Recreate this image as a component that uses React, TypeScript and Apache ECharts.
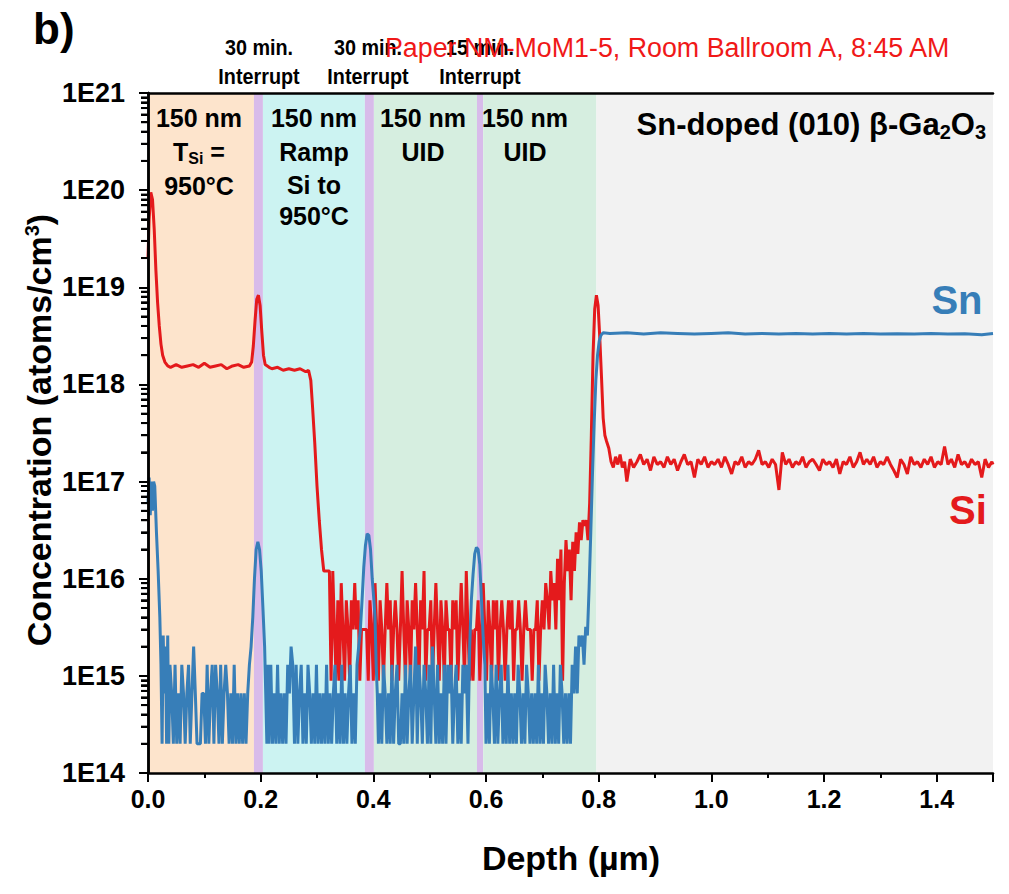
import React, { useEffect, useRef } from "react";
import * as echarts from "echarts";

// ---------------- data ----------------
const Y_TICK_LABELS = ["1E14", "1E15", "1E16", "1E17", "1E18", "1E19", "1E20", "1E21"];
const Y_DECADES = [14, 15, 16, 17, 18, 19, 20];
const Y_MINOR_MULT = [2, 3, 4, 5, 6, 7, 8, 9];

// depth ranges (µm) of the growth layers
const BAND_FROM = [0, 0.188, 0.204, 0.385, 0.401, 0.584, 0.595, 0.796];
const BAND_TO = [0.188, 0.204, 0.385, 0.401, 0.584, 0.595, 0.796, 1.5];
const BAND_COLORS = ["#FDE4CC", "#D8BBEA", "#CCF3F2", "#D8BBEA", "#D6EEE0", "#D8BBEA", "#D6EEE0", "#F2F2F2"];

// Si profile [depth µm, atoms/cm3]
const SI_PROFILE: [number, number][] = [
  [0.0, 2e19], [0.002, 5e19], [0.005, 9.5e19], [0.008, 8e19], [0.011, 4e19], [0.014, 1.5e19],
  [0.017, 7e18], [0.02, 4e18], [0.023, 2.6e18], [0.026, 2e18], [0.03, 1.7e18], [0.035, 1.55e18],
  [0.04, 1.5e18], [0.05, 1.6e18], [0.06, 1.5e18], [0.07, 1.55e18], [0.08, 1.6e18], [0.09, 1.5e18],
  [0.1, 1.65e18], [0.11, 1.5e18], [0.12, 1.55e18], [0.13, 1.6e18], [0.14, 1.45e18], [0.15, 1.55e18],
  [0.16, 1.6e18], [0.17, 1.5e18], [0.18, 1.55e18], [0.184, 1.7e18], [0.187, 2.5e18], [0.19, 4.5e18],
  [0.193, 7.5e18], [0.196, 8.3e18], [0.199, 6.5e18], [0.202, 3.5e18], [0.205, 2e18], [0.208, 1.6e18],
  [0.215, 1.5e18], [0.22, 1.45e18], [0.23, 1.5e18], [0.24, 1.4e18], [0.25, 1.45e18], [0.26, 1.4e18],
  [0.27, 1.45e18], [0.28, 1.35e18], [0.285, 1.4e18], [0.289, 1.1e18], [0.292, 6e17], [0.296, 2.5e17],
  [0.3, 9e16], [0.304, 4e16], [0.308, 2e16], [0.312, 1.2e16], [0.316, 1.2e16], [0.32, 1.2e16],
  [0.322, 1.2e16], [0.325, 8.9e14], [0.328, 1.2e16], [0.331, 3e15], [0.334, 8.9e14], [0.337, 6e15],
  [0.34, 8.9e14], [0.343, 9e15], [0.346, 3e15], [0.349, 8.9e14], [0.352, 6e15], [0.355, 3e15],
  [0.358, 8.9e14], [0.361, 6e15], [0.364, 3e15], [0.367, 9e15], [0.37, 3e15], [0.373, 6e15],
  [0.376, 8.9e14], [0.379, 3e15], [0.382, 3e15], [0.385, 3e15], [0.388, 3e15], [0.391, 8.9e14],
  [0.394, 6e15], [0.397, 3e15], [0.4, 8.9e14], [0.403, 9e15], [0.406, 3e15], [0.409, 8.9e14],
  [0.412, 6e15], [0.415, 3e15], [0.418, 8.9e14], [0.421, 3e15], [0.424, 9e15], [0.427, 3e15],
  [0.43, 6e15], [0.433, 8.9e14], [0.436, 3e15], [0.439, 6e15], [0.442, 3e15], [0.445, 8.9e14],
  [0.448, 3e15], [0.451, 1.2e16], [0.454, 3e15], [0.457, 8.9e14], [0.46, 6e15], [0.463, 3e15],
  [0.466, 8.9e14], [0.469, 6e15], [0.472, 3e15], [0.475, 9e15], [0.478, 3e15], [0.481, 8.9e14],
  [0.484, 6e15], [0.487, 3e15], [0.49, 1.2e16], [0.493, 8.9e14], [0.496, 3e15], [0.499, 3e15],
  [0.502, 6e15], [0.505, 8.9e14], [0.508, 3e15], [0.511, 9e15], [0.514, 3e15], [0.517, 8.9e14],
  [0.52, 6e15], [0.523, 3e15], [0.526, 8.9e14], [0.529, 6e15], [0.532, 3e15], [0.535, 3e15],
  [0.538, 8.9e14], [0.541, 6e15], [0.544, 3e15], [0.547, 6e15], [0.55, 8.9e14], [0.553, 3e15],
  [0.556, 9e15], [0.559, 3e15], [0.562, 8.9e14], [0.565, 1.2e16], [0.568, 3e15], [0.571, 8.9e14],
  [0.574, 3e15], [0.577, 8.9e14], [0.58, 3e15], [0.583, 3e15], [0.586, 6e15], [0.589, 8.9e14],
  [0.592, 3e15], [0.595, 9e15], [0.598, 3e15], [0.601, 8.9e14], [0.604, 6e15], [0.607, 3e15],
  [0.61, 8.9e14], [0.613, 6e15], [0.616, 3e15], [0.619, 6e15], [0.622, 8.9e14], [0.625, 3e15],
  [0.628, 6e15], [0.631, 3e15], [0.634, 8.9e14], [0.637, 3e15], [0.64, 6e15], [0.643, 3e15],
  [0.646, 6e15], [0.649, 8.9e14], [0.652, 3e15], [0.655, 3e15], [0.658, 6e15], [0.661, 3e15],
  [0.664, 8.9e14], [0.667, 3e15], [0.67, 6e15], [0.673, 3e15], [0.676, 3e15], [0.679, 3e15],
  [0.682, 8.9e14], [0.685, 3e15], [0.688, 3e15], [0.691, 6e15], [0.694, 8.9e14], [0.697, 3e15],
  [0.7, 6e15], [0.703, 3e15], [0.706, 9e15], [0.709, 6e15], [0.712, 3e15], [0.715, 1.2e16],
  [0.718, 6e15], [0.721, 9e15], [0.724, 3e15], [0.727, 1.6e16], [0.73, 6e15], [0.733, 2e16],
  [0.736, 8.9e14], [0.739, 9e15], [0.742, 2.5e16], [0.745, 1.2e16], [0.748, 2e16], [0.751, 6e15],
  [0.754, 2.4e16], [0.757, 1.2e16], [0.76, 3e16], [0.763, 1.8e16], [0.766, 3.8e16], [0.769, 2.5e16],
  [0.772, 4e16], [0.775, 3.5e16], [0.778, 4e16], [0.781, 2.5e16], [0.784, 6e16], [0.787, 3e17],
  [0.79, 2e18], [0.793, 6e18], [0.796, 8.3e18], [0.799, 6.5e18], [0.802, 3e18], [0.805, 1.2e18],
  [0.808, 4.5e17], [0.811, 3e17], [0.814, 2.6e17], [0.818, 2.2e17], [0.822, 1.6e17], [0.826, 1.4e17],
  [0.83, 1.8e17], [0.834, 1.5e17], [0.838, 1.9e17], [0.842, 1.4e17], [0.846, 1.6e17], [0.85, 1e17],
  [0.856, 1.7e17], [0.862, 1.4e17], [0.868, 1.6e17], [0.874, 1.9e17], [0.88, 1.5e17], [0.886, 1.7e17],
  [0.892, 1.3e17], [0.898, 1.8e17], [0.904, 1.5e17], [0.91, 1.6e17], [0.916, 1.4e17], [0.922, 1.8e17],
  [0.928, 1.5e17], [0.934, 1.7e17], [0.94, 1.3e17], [0.946, 1.6e17], [0.952, 1.9e17], [0.958, 1.5e17],
  [0.964, 1.6e17], [0.97, 1.1e17], [0.976, 1.7e17], [0.982, 1.5e17], [0.988, 1.8e17], [0.994, 1.4e17],
  [1.0, 1.6e17], [1.006, 1.5e17], [1.012, 1.7e17], [1.018, 1.4e17], [1.024, 1.8e17], [1.03, 1.5e17],
  [1.036, 1.2e17], [1.042, 1.6e17], [1.048, 1.5e17], [1.054, 1.8e17], [1.06, 1.4e17], [1.066, 1.6e17],
  [1.072, 1.5e17], [1.078, 1.7e17], [1.084, 2.1e17], [1.09, 1.5e17], [1.096, 1.6e17], [1.102, 1.4e17],
  [1.108, 1.7e17], [1.114, 1.5e17], [1.12, 8.2e16], [1.126, 2e17], [1.132, 1.5e17], [1.138, 1.7e17],
  [1.144, 1.4e17], [1.15, 1.6e17], [1.156, 1.5e17], [1.162, 1.8e17], [1.168, 1.4e17], [1.174, 1.6e17],
  [1.18, 1.7e17], [1.186, 1.5e17], [1.192, 1.3e17], [1.198, 1.7e17], [1.204, 1.5e17], [1.21, 1.6e17],
  [1.216, 1.4e17], [1.222, 1.7e17], [1.228, 1.2e17], [1.234, 1.6e17], [1.24, 1.5e17], [1.246, 1.8e17],
  [1.252, 1.4e17], [1.258, 1.6e17], [1.264, 2e17], [1.27, 1.5e17], [1.276, 1.7e17], [1.282, 1.5e17],
  [1.288, 1.8e17], [1.294, 1.4e17], [1.3, 1.6e17], [1.306, 1.5e17], [1.312, 1.8e17], [1.318, 1.5e17],
  [1.324, 1.3e17], [1.33, 1.1e17], [1.336, 1.7e17], [1.342, 1.5e17], [1.348, 1.2e17], [1.354, 1.8e17],
  [1.36, 1.5e17], [1.366, 1.6e17], [1.372, 1.4e17], [1.378, 1.7e17], [1.384, 1.5e17], [1.39, 1.8e17],
  [1.396, 1.4e17], [1.402, 1.6e17], [1.408, 1.5e17], [1.414, 2.3e17], [1.42, 1.5e17], [1.426, 1.7e17],
  [1.432, 1.4e17], [1.438, 1.9e17], [1.444, 1.5e17], [1.45, 1.6e17], [1.456, 1.4e17], [1.462, 1.7e17],
  [1.468, 1.5e17], [1.474, 1.6e17], [1.48, 1.1e17], [1.486, 1.7e17], [1.492, 1.4e17], [1.498, 1.6e17],
  [1.5, 1.5e17],
];

// Sn profile [depth µm, atoms/cm3]
const SN_PROFILE: [number, number][] = [
  [0.0, 6e16], [0.002, 1.1e17], [0.004, 4.5e16], [0.006, 1e17], [0.008, 5e16], [0.01, 1e17],
  [0.012, 9e16], [0.015, 3e16], [0.018, 1.2e16], [0.021, 4e15], [0.023, 1.3e15], [0.025, 2e14],
  [0.027, 2.6e15], [0.029, 6.6e14], [0.031, 2e15], [0.033, 2e14], [0.035, 2.6e15], [0.037, 2e14],
  [0.039, 1.3e15], [0.042, 6.6e14], [0.045, 2e14], [0.048, 1.3e15], [0.051, 2e14], [0.054, 6.6e14],
  [0.057, 2e14], [0.06, 1.3e15], [0.063, 6.6e14], [0.066, 2e14], [0.069, 6.6e14], [0.072, 1.3e15],
  [0.075, 2e14], [0.078, 6.6e14], [0.081, 2e15], [0.084, 6.6e14], [0.087, 2e14], [0.09, 2e14],
  [0.093, 2e14], [0.096, 6.6e14], [0.099, 6.6e14], [0.102, 2e14], [0.105, 1.3e15], [0.108, 2e14],
  [0.111, 6.6e14], [0.114, 1.3e15], [0.117, 2e14], [0.12, 1.3e15], [0.123, 6.6e14], [0.126, 2e14],
  [0.129, 1.3e15], [0.132, 2e14], [0.135, 6.6e14], [0.138, 1.3e15], [0.141, 6.6e14], [0.144, 2e14],
  [0.147, 6.6e14], [0.15, 2e14], [0.153, 1.3e15], [0.156, 2e14], [0.159, 6.6e14], [0.162, 2e14],
  [0.165, 6.6e14], [0.168, 2e14], [0.171, 6.6e14], [0.174, 2e14], [0.177, 6.6e14], [0.18, 1.3e15],
  [0.183, 2e15], [0.186, 4e15], [0.189, 1e16], [0.192, 2e16], [0.195, 2.4e16], [0.198, 2e16],
  [0.201, 1.2e16], [0.204, 5e15], [0.207, 2e15], [0.209, 6.6e14], [0.211, 2e14], [0.213, 1.3e15],
  [0.215, 2e14], [0.218, 1.3e15], [0.221, 2e14], [0.224, 6.6e14], [0.227, 2e14], [0.23, 1.3e15],
  [0.233, 2e14], [0.236, 6.6e14], [0.239, 2e14], [0.242, 6.6e14], [0.245, 2e14], [0.248, 1.3e15],
  [0.251, 6.6e14], [0.254, 2e15], [0.257, 1.3e15], [0.26, 2e14], [0.263, 1.3e15], [0.266, 2e14],
  [0.269, 6.6e14], [0.272, 1.3e15], [0.275, 2e14], [0.278, 6.6e14], [0.281, 2e14], [0.284, 1.3e15],
  [0.287, 6.6e14], [0.29, 2e14], [0.293, 6.6e14], [0.296, 2e14], [0.299, 1.3e15], [0.302, 2e14],
  [0.305, 6.6e14], [0.308, 2e14], [0.311, 6.6e14], [0.314, 2e14], [0.317, 1.3e15], [0.32, 2e14],
  [0.323, 6.6e14], [0.326, 2e14], [0.329, 6.6e14], [0.332, 1.3e15], [0.335, 2e14], [0.338, 6.6e14],
  [0.341, 2e14], [0.344, 1.3e15], [0.347, 2e14], [0.35, 6.6e14], [0.353, 2e14], [0.356, 6.6e14],
  [0.359, 1.3e15], [0.362, 2e14], [0.365, 6.6e14], [0.368, 2e14], [0.371, 1.3e15], [0.374, 2e15],
  [0.377, 3e15], [0.38, 6e15], [0.383, 1.3e16], [0.386, 2.2e16], [0.389, 2.9e16], [0.392, 2.8e16],
  [0.395, 2e16], [0.398, 1e16], [0.401, 6e15], [0.403, 4e15], [0.405, 1.3e15], [0.407, 6.6e14],
  [0.409, 2e14], [0.412, 6.6e14], [0.415, 2e14], [0.418, 1.3e15], [0.421, 6.6e14], [0.424, 2e14],
  [0.427, 6.6e14], [0.43, 2e14], [0.433, 1.3e15], [0.436, 2e14], [0.439, 6.6e14], [0.442, 1.3e15],
  [0.445, 2e14], [0.448, 2e14], [0.451, 6.6e14], [0.454, 2e14], [0.457, 1.3e15], [0.46, 2e14],
  [0.463, 6.6e14], [0.466, 1.3e15], [0.469, 2e14], [0.472, 6.6e14], [0.475, 2e15], [0.478, 2e14],
  [0.481, 1.3e15], [0.484, 6.6e14], [0.487, 2e14], [0.49, 1.3e15], [0.493, 6.6e14], [0.496, 2e14],
  [0.499, 1.3e15], [0.502, 2e14], [0.505, 2e15], [0.508, 6.6e14], [0.511, 2e14], [0.514, 1.3e15],
  [0.517, 2e14], [0.52, 6.6e14], [0.523, 2e14], [0.526, 1.3e15], [0.529, 2e14], [0.532, 1.3e15],
  [0.535, 6.6e14], [0.538, 1.3e15], [0.541, 2e14], [0.544, 6.6e14], [0.547, 1.3e15], [0.55, 2e14],
  [0.553, 6.6e14], [0.556, 2e14], [0.559, 1.3e15], [0.562, 6.6e14], [0.565, 1.3e15], [0.568, 2e14],
  [0.571, 2e15], [0.574, 6e15], [0.577, 1.1e16], [0.58, 1.8e16], [0.583, 2.1e16], [0.586, 2e16],
  [0.589, 1.4e16], [0.592, 6e15], [0.595, 2.5e15], [0.598, 1.3e15], [0.6, 2e14], [0.603, 6.6e14],
  [0.606, 2e14], [0.609, 1.3e15], [0.612, 6.6e14], [0.615, 2e14], [0.618, 1.3e15], [0.621, 2e14],
  [0.624, 6.6e14], [0.627, 1.3e15], [0.63, 2e14], [0.633, 6.6e14], [0.636, 2e14], [0.639, 1.3e15],
  [0.642, 2e14], [0.645, 6.6e14], [0.648, 2e14], [0.651, 6.6e14], [0.654, 2e14], [0.657, 1.3e15],
  [0.66, 6.6e14], [0.663, 2e14], [0.666, 6.6e14], [0.669, 2e14], [0.672, 1.3e15], [0.675, 6.6e14],
  [0.678, 2e14], [0.681, 6.6e14], [0.684, 2e14], [0.687, 6.6e14], [0.69, 2e14], [0.693, 1.3e15],
  [0.696, 2e14], [0.699, 6.6e14], [0.702, 2e14], [0.705, 1.3e15], [0.708, 6.6e14], [0.711, 2e14],
  [0.714, 6.6e14], [0.717, 2e14], [0.72, 1.3e15], [0.723, 2e14], [0.726, 6.6e14], [0.729, 2e14],
  [0.732, 1.3e15], [0.735, 6.6e14], [0.738, 2e14], [0.741, 6.6e14], [0.744, 2e14], [0.747, 6.6e14],
  [0.75, 2e14], [0.753, 1.3e15], [0.756, 6.6e14], [0.759, 2e15], [0.762, 6.6e14], [0.765, 2.6e15],
  [0.768, 2e15], [0.771, 2.6e15], [0.774, 1.3e15], [0.777, 3.2e15], [0.78, 2.6e15], [0.783, 8e15],
  [0.786, 3e16], [0.789, 1.2e17], [0.792, 4e17], [0.795, 1.1e18], [0.798, 2e18], [0.801, 2.8e18],
  [0.804, 3.2e18], [0.808, 3.4e18], [0.82, 3.35e18], [0.85, 3.4e18], [0.88, 3.3e18], [0.91, 3.4e18],
  [0.94, 3.35e18], [0.97, 3.3e18], [1.0, 3.35e18], [1.03, 3.4e18], [1.06, 3.3e18], [1.09, 3.35e18],
  [1.12, 3.3e18], [1.15, 3.35e18], [1.18, 3.3e18], [1.21, 3.35e18], [1.24, 3.3e18], [1.27, 3.35e18],
  [1.3, 3.3e18], [1.33, 3.32e18], [1.36, 3.3e18], [1.39, 3.35e18], [1.42, 3.3e18], [1.45, 3.32e18],
  [1.48, 3.25e18], [1.5, 3.35e18],
];

// ---------------- styles ----------------
const SANS = '"Liberation Sans", Arial, Helvetica, sans-serif';
const RED = "#E41A1C";
const BLUE = "#377EB8";

function txt(x: number, y: number, text: string, font: string, fill = "#000", align = "center", sx = 1) {
  return {
    type: "text",
    x,
    y,
    scaleX: sx,
    z: 50,
    silent: true,
    style: { text, font, fill, align, verticalAlign: "middle", textAlign: align, textVerticalAlign: "middle" },
  };
}

export default function App() {
  const ref = useRef<HTMLDivElement>(null);

  useEffect(() => {
    if (!ref.current) return;
    const chart = echarts.init(ref.current, null, { renderer: "svg" });

    const minorVals: number[] = [];
    Y_DECADES.forEach((d) => Y_MINOR_MULT.forEach((m) => minorVals.push(m * Math.pow(10, d))));

    const bandData = BAND_FROM.map((f, i) => [
      { xAxis: f, itemStyle: { color: BAND_COLORS[i], opacity: 1, borderWidth: 0 } },
      { xAxis: BAND_TO[i] },
    ]);

    const bold = (size: number) => `bold ${size}px ${SANS}`;

    const graphics: any[] = [
      txt(33, 28, "b)", bold(44), "#000", "left"),
      txt(259, 47, "30 min.", bold(22), "#000", "center", 0.9),
      txt(259, 76, "Interrupt", bold(22), "#000", "center", 0.9),
      txt(368, 47, "30 min.", bold(22), "#000", "center", 0.9),
      txt(368, 76, "Interrupt", bold(22), "#000", "center", 0.9),
      txt(480, 47, "15 min.", bold(22), "#000", "center", 0.9),
      txt(480, 76, "Interrupt", bold(22), "#000", "center", 0.9),
      txt(385, 48, "Paper NM-MoM1-5, Room Ballroom A, 8:45 AM", `26.8px ${SANS}`, "#F01818", "left"),
      txt(199, 118, "150 nm", bold(25)),
      {
        type: "text",
        x: 199,
        y: 152,
        z: 50,
        silent: true,
        style: {
          text: "{a|T}{s|Si}{a| =}",
          align: "center",
          verticalAlign: "middle",
          textAlign: "center",
          textVerticalAlign: "middle",
          fill: "#000",
          rich: {
            a: { font: bold(25), fill: "#000" },
            s: { font: bold(16), fill: "#000", verticalAlign: "bottom", padding: [12, 0, 0, 0] },
          },
        },
      },
      txt(199, 186, "950°C", bold(25)),
      txt(314, 118, "150 nm", bold(25)),
      txt(314, 152, "Ramp", bold(25)),
      txt(314, 185, "Si to", bold(25)),
      txt(314, 216, "950°C", bold(25)),
      txt(423, 118, "150 nm", bold(25)),
      txt(423, 152, "UID", bold(25)),
      txt(525, 118, "150 nm", bold(25)),
      txt(525, 152, "UID", bold(25)),
      {
        type: "text",
        x: 986,
        y: 124,
        z: 50,
        silent: true,
        style: {
          text: "{a|Sn-doped (010) β-Ga}{s|2}{a|O}{s|3}",
          align: "right",
          verticalAlign: "middle",
          textAlign: "right",
          textVerticalAlign: "middle",
          fill: "#000",
          rich: {
            a: { font: bold(31), fill: "#000" },
            s: { font: bold(20), fill: "#000", verticalAlign: "bottom", padding: [15, 0, 0, 0] },
          },
        },
      },
      txt(957, 300, "Sn", bold(40), BLUE),
      txt(968, 510, "Si", bold(40), RED),
      {
        type: "text",
        x: 39,
        y: 430,
        rotation: Math.PI / 2,
        z: 50,
        silent: true,
        style: {
          text: "{a|Concentration (atoms/cm}{s|3}{a|)}",
          align: "center",
          verticalAlign: "middle",
          textAlign: "center",
          textVerticalAlign: "middle",
          fill: "#000",
          rich: {
            a: { font: bold(34), fill: "#000" },
            s: { font: bold(20), fill: "#000", verticalAlign: "top", padding: [0, 0, 14, 0] },
          },
        },
      },
      txt(571, 858, "Depth (µm)", bold(34)),
    ];

    const option: any = {
      animation: false,
      grid: { left: 148, right: 16, top: 93, bottom: 121, containLabel: false },
      xAxis: [
        {
          type: "value",
          min: 0,
          max: 1.5,
          interval: 0.2,
          z: 10,
          axisLine: { lineStyle: { color: "#000", width: 2.5 } },
          axisTick: { show: true, length: 9, lineStyle: { color: "#000", width: 2 } },
          minorTick: { show: true, splitNumber: 2, length: 5, lineStyle: { color: "#000", width: 2 } },
          splitLine: { show: false },
          axisLabel: {
            margin: 13,
            color: "#000",
            fontFamily: SANS,
            fontWeight: "bold",
            fontSize: 25,
            formatter: (v: number) => (Math.abs(v * 5 - Math.round(v * 5)) < 1e-6 ? v.toFixed(1) : ""),
          },
        },
        {
          type: "value",
          position: "top",
          min: 0,
          max: 1.5,
          z: 10,
          axisLine: { show: true, lineStyle: { color: "#000", width: 2.5 } },
          axisTick: { show: false },
          axisLabel: { show: false },
          splitLine: { show: false },
        },
      ],
      yAxis: [
        {
          type: "log",
          logBase: 10,
          min: 1e14,
          max: 1e21,
          splitNumber: 7,
          z: 10,
          axisLine: { show: true, lineStyle: { color: "#000", width: 2.5 } },
          axisTick: { show: true, length: 9, lineStyle: { color: "#000", width: 2 } },
          splitLine: { show: false },
          axisLabel: {
            margin: 23,
            color: "#000",
            fontFamily: SANS,
            fontWeight: "bold",
            fontSize: 27,
            formatter: (v: number) => {
              const idx = Math.round(Math.log10(v)) - 14;
              return Y_TICK_LABELS[idx] ?? "";
            },
          },
        },
        {
          type: "log",
          logBase: 10,
          position: "right",
          min: 1e14,
          max: 1e21,
          z: 10,
          axisLine: { show: true, lineStyle: { color: "#000", width: 2.5 } },
          axisTick: { show: false },
          axisLabel: { show: false },
          splitLine: { show: false },
        },
        {
          type: "log",
          logBase: 10,
          position: "left",
          offset: 0,
          min: 1e14,
          max: 1e21,
          z: 11,
          axisLine: { show: false },
          axisTick: { show: true, length: 7, customValues: minorVals, lineStyle: { color: "#000", width: 2 } },
          axisLabel: { show: false },
          splitLine: { show: false },
        },
      ],
      series: [
        {
          type: "line",
          name: "bands",
          data: [[0, 1e14]],
          showSymbol: false,
          symbol: "none",
          lineStyle: { opacity: 0 },
          silent: true,
          z: 1,
          markArea: { silent: true, z: 1, data: bandData },
        },
        {
          type: "line",
          name: "Si",
          data: SI_PROFILE,
          showSymbol: false,
          symbol: "none",
          lineStyle: { color: RED, width: 3 },
          itemStyle: { color: RED },
          z: 3,
        },
        {
          type: "line",
          name: "Sn",
          data: SN_PROFILE,
          showSymbol: false,
          symbol: "none",
          lineStyle: { color: BLUE, width: 3 },
          itemStyle: { color: BLUE },
          z: 4,
        },
      ],
      graphic: graphics,
    };

    chart.setOption(option);

    // fallback minor log ticks placed through the axis scale
    try {
      const pts = minorVals.map((v) => chart.convertToPixel({ gridIndex: 0 }, [0, v]) as number[]);
      const lines = pts
        .filter((p) => Array.isArray(p) && isFinite(p[0]) && isFinite(p[1]))
        .map((p) => ({
          type: "line",
          z: 60,
          silent: true,
          shape: { x1: p[0] - 7, y1: p[1], x2: p[0], y2: p[1] },
          style: { stroke: "#000", lineWidth: 2 },
        }));
      if (lines.length) chart.setOption({ graphic: [...graphics, ...lines] }, { replaceMerge: ["graphic"] });
    } catch (e) {
      /* keep the axis-based ticks */
    }

    return () => chart.dispose();
  }, []);

  return <div ref={ref} style={{ width: 1009, height: 894, margin: -8 }} />;
}
